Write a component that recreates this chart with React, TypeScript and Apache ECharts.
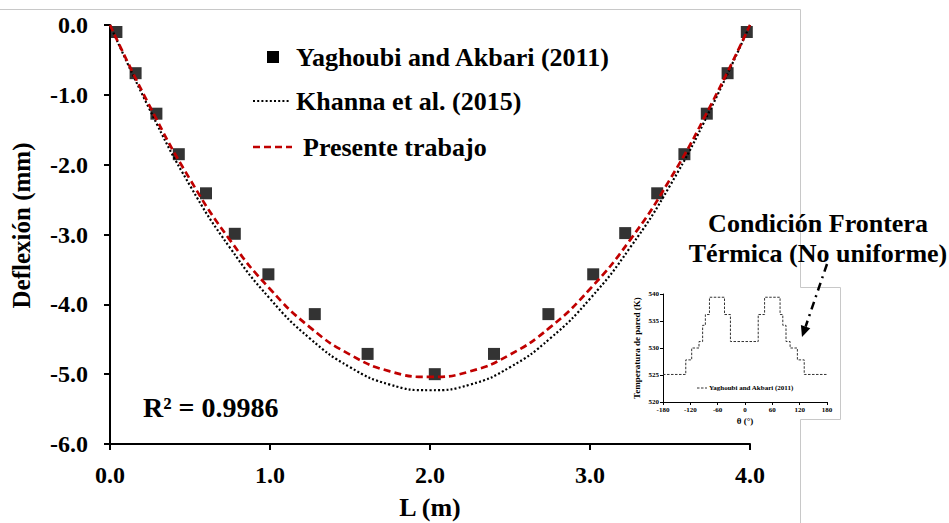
import React, { useEffect, useRef } from "react";
import * as echarts from "echarts";

const FONT = "Liberation Serif, Times New Roman, serif";

// Experimental points (Yaghoubi and Akbari, 2011)
const expLength = [0.04, 0.16, 0.29, 0.43, 0.6, 0.78, 0.99, 1.28, 1.61, 2.03, 2.4, 2.74, 3.02, 3.22, 3.42, 3.59, 3.73, 3.86, 3.98];
const expDeflection = [-0.1, -0.69, -1.27, -1.85, -2.41, -2.99, -3.57, -4.14, -4.71, -5.0, -4.71, -4.14, -3.57, -2.98, -2.41, -1.85, -1.27, -0.69, -0.1];

// Model curves sampled along the beam
const curveLength = [0, 0.25, 0.5, 0.75, 1.0, 1.25, 1.5, 1.75, 2.0, 2.25, 2.5, 2.75, 3.0, 3.25, 3.5, 3.75, 4.0];
const khannaDeflection = [0, -1.22, -2.3, -3.19, -3.92, -4.49, -4.9, -5.15, -5.23, -5.15, -4.9, -4.49, -3.92, -3.19, -2.3, -1.22, 0];
const presentDeflection = [0, -1.17, -2.21, -3.08, -3.78, -4.33, -4.72, -4.96, -5.04, -4.96, -4.72, -4.33, -3.78, -3.08, -2.21, -1.17, 0];

// Non-uniform wall temperature boundary condition (step profile)
const wallAngle = [-180, -130, -117, -101, -93, -87, -78, -45, -32, 29, 43, 77, 83, 90, 99, 115, 130, 180];
const wallTemp = [525.1, 527.8, 530.0, 531.2, 534.2, 536.2, 539.4, 536.2, 531.2, 536.2, 539.4, 536.2, 534.2, 531.2, 530.0, 527.8, 525.1, 525.1];

const legendLabels = ["Yaghoubi and Akbari (2011)", "Khanna et al. (2015)", "Presente trabajo"];
const r2Label = "R² = 0.9986";
const noteLines = ["Condición Frontera", "Térmica (No uniforme)"];

const zip = (xs: number[], ys: number[]) => xs.map((x, i) => [x, ys[i]]);

export default function App() {
  const ref = useRef<HTMLDivElement>(null);

  useEffect(() => {
    document.body.style.margin = "0";
    if (!ref.current) return;
    const chart = echarts.init(ref.current, null, { renderer: "svg" });

    const axisBold = { color: "#000", fontFamily: FONT, fontWeight: "bold" as const };
    const boldText = (text: string, size: number) => ({
      text,
      fontFamily: FONT,
      fontWeight: "bold",
      fontSize: size,
      fill: "#000",
      verticalAlign: "middle",
    });

    chart.setOption({
      animation: false,
      backgroundColor: "#fff",
      textStyle: { fontFamily: FONT },
      grid: [
        { left: 110, top: 25, width: 640, height: 419, outerBoundsMode: "none", containLabel: false },
        { left: 663, top: 294, width: 164, height: 108, outerBoundsMode: "none", containLabel: false },
      ],
      xAxis: [
        {
          gridIndex: 0,
          type: "value",
          min: 0,
          max: 4,
          interval: 1,
          name: "L (m)",
          nameLocation: "middle",
          nameGap: 50,
          nameTextStyle: { ...axisBold, fontSize: 26, verticalAlign: "top" },
          axisLine: { onZero: false, lineStyle: { color: "#000", width: 2 } },
          axisTick: { length: 6, lineStyle: { color: "#000", width: 2 } },
          axisLabel: { ...axisBold, fontSize: 24, margin: 19, formatter: (v: number) => v.toFixed(1) },
          splitLine: { show: false },
        },
        {
          gridIndex: 1,
          type: "value",
          min: -180,
          max: 180,
          interval: 60,
          name: "θ (°)",
          nameLocation: "middle",
          nameGap: 14,
          nameTextStyle: { ...axisBold, fontSize: 9, verticalAlign: "top" },
          axisLine: { onZero: false, lineStyle: { color: "#000", width: 1 } },
          axisTick: { length: 3, lineStyle: { color: "#000", width: 1 } },
          axisLabel: { ...axisBold, fontSize: 7, margin: 4 },
          splitLine: { show: false },
        },
      ],
      yAxis: [
        {
          gridIndex: 0,
          type: "value",
          min: -6,
          max: 0,
          interval: 1,
          name: "Deflexión (mm)",
          nameLocation: "middle",
          nameGap: 76,
          nameTextStyle: { ...axisBold, fontSize: 25, padding: [0, 0, 0, 18] },
          axisLine: { onZero: false, lineStyle: { color: "#000", width: 2 } },
          axisTick: { length: 6, lineStyle: { color: "#000", width: 2 } },
          axisLabel: { ...axisBold, fontSize: 24, margin: 22, formatter: (v: number) => v.toFixed(1) },
          splitLine: { show: false },
        },
        {
          gridIndex: 1,
          type: "value",
          min: 520,
          max: 540,
          interval: 5,
          name: "Temperatura de pared (K)",
          nameLocation: "middle",
          nameGap: 22,
          nameTextStyle: { ...axisBold, fontSize: 9 },
          axisLine: { onZero: false, lineStyle: { color: "#000", width: 1 } },
          axisTick: { length: 3, lineStyle: { color: "#000", width: 1 } },
          axisLabel: { ...axisBold, fontSize: 7, margin: 4 },
          splitLine: { show: false },
        },
      ],
      series: [
        {
          name: legendLabels[0],
          type: "scatter",
          xAxisIndex: 0,
          yAxisIndex: 0,
          symbol: "rect",
          symbolSize: 12,
          itemStyle: { color: "#000" },
          data: zip(expLength, expDeflection),
          z: 2,
        },
        {
          name: legendLabels[1],
          type: "line",
          xAxisIndex: 0,
          yAxisIndex: 0,
          smooth: true,
          showSymbol: false,
          lineStyle: { color: "#000", width: 2.2, type: [2, 2.2] },
          data: zip(curveLength, khannaDeflection),
          z: 3,
        },
        {
          name: legendLabels[2],
          type: "line",
          xAxisIndex: 0,
          yAxisIndex: 0,
          smooth: true,
          showSymbol: false,
          lineStyle: { color: "#c00000", width: 2.7, type: [7, 4] },
          data: zip(curveLength, presentDeflection),
          z: 4,
        },
        {
          name: "wall",
          type: "line",
          xAxisIndex: 1,
          yAxisIndex: 1,
          step: "end",
          showSymbol: false,
          lineStyle: { color: "#333", width: 1, type: [2.5, 1.5] },
          data: zip(wallAngle, wallTemp),
        },
      ],
      graphic: [
        // frame outline around the figure
        {
          type: "polyline",
          shape: {
            points: [
              [0, 9.5],
              [800.5, 9.5],
              [800.5, 287.5],
              [840.5, 287.5],
              [840.5, 419.5],
              [800.5, 419.5],
              [800.5, 523],
            ],
          },
          style: { stroke: "#c8c8c8", lineWidth: 1, fill: null },
          z: 0,
        },
        // legend
        { type: "rect", shape: { x: 267, y: 51, width: 12, height: 12 }, style: { fill: "#000" } },
        { type: "text", x: 296, y: 57, style: boldText(legendLabels[0], 26) },
        {
          type: "line",
          shape: { x1: 253, y1: 101, x2: 290, y2: 101 },
          style: { stroke: "#000", lineWidth: 2.2, lineDash: [2, 2.2] },
        },
        { type: "text", x: 296, y: 101, style: boldText(legendLabels[1], 26) },
        {
          type: "line",
          shape: { x1: 253, y1: 147, x2: 292, y2: 147 },
          style: { stroke: "#c00000", lineWidth: 2.7, lineDash: [7, 4] },
        },
        { type: "text", x: 303, y: 147, style: boldText(legendLabels[2], 26) },
        // goodness of fit
        { type: "text", x: 143, y: 407, style: boldText(r2Label, 28) },
        // boundary condition note
        { type: "text", x: 818, y: 223, style: { ...boldText(noteLines[0], 26), align: "center" } },
        { type: "text", x: 818, y: 253, style: { ...boldText(noteLines[1], 26), align: "center" } },
        {
          type: "line",
          shape: { x1: 827, y1: 264, x2: 805.6, y2: 326.6 },
          style: { stroke: "#000", lineWidth: 2.5, lineDash: [8, 5, 2, 5] },
        },
        {
          type: "polygon",
          shape: { points: [[802, 337], [810.3, 328.2], [800.9, 325]] },
          style: { fill: "#000" },
        },
        // inset legend
        {
          type: "line",
          shape: { x1: 697, y1: 388, x2: 707, y2: 388 },
          style: { stroke: "#333", lineWidth: 1, lineDash: [2.5, 1.5] },
        },
        { type: "text", x: 709, y: 388, style: boldText(legendLabels[0], 7) },
      ],
    });

    return () => chart.dispose();
  }, []);

  return <div ref={ref} style={{ position: "fixed", left: 0, top: 0, width: 949, height: 523 }} />;
}
